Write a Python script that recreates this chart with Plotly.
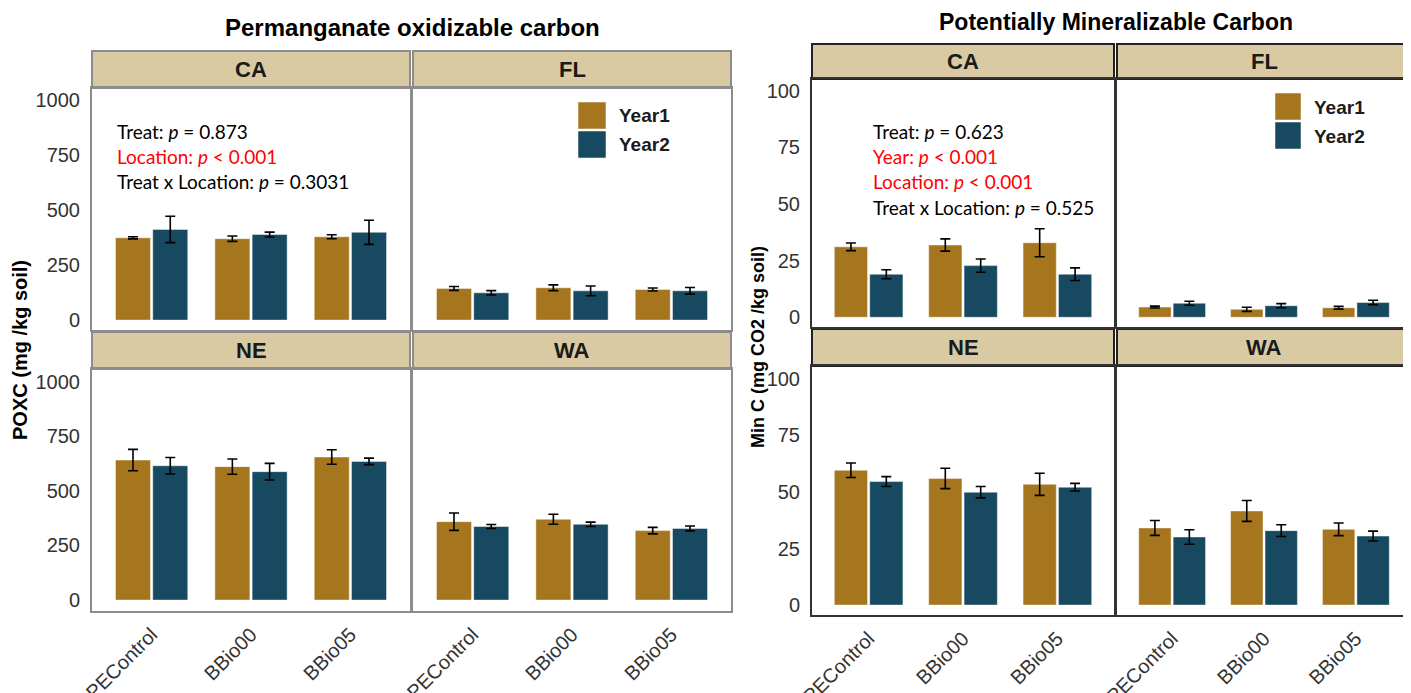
import plotly.graph_objects as go

# page body has an 8px margin: draw the figure 8px smaller and shift coordinates
OFF = 8
W, H = 1411 - OFF, 693 - OFF

treatments = ["PEControl", "BBio00", "BBio05"]
locations = ["CA", "FL", "NE", "WA"]
years = ["Year1", "Year2"]

# POXC (mg /kg soil)
poxc_ca_y1 = [374, 370, 379]
poxc_ca_y1_err = [5, 12, 9]
poxc_ca_y2 = [412, 389, 399]
poxc_ca_y2_err = [60, 11, 55]
poxc_fl_y1 = [144, 147, 139]
poxc_fl_y1_err = [9, 13, 7]
poxc_fl_y2 = [124, 133, 133]
poxc_fl_y2_err = [10, 22, 15]
poxc_ne_y1 = [641, 611, 655]
poxc_ne_y1_err = [49, 35, 33]
poxc_ne_y2 = [615, 588, 635]
poxc_ne_y2_err = [38, 38, 15]
poxc_wa_y1 = [359, 370, 318]
poxc_wa_y1_err = [40, 23, 15]
poxc_wa_y2 = [337, 347, 328]
poxc_wa_y2_err = [9, 10, 11]

# Min C (mg CO2 /kg soil)
minc_ca_y1 = [31.1, 31.9, 32.9]
minc_ca_y1_err = [1.7, 2.7, 6.2]
minc_ca_y2 = [19.0, 22.8, 19.0]
minc_ca_y2_err = [2.0, 2.9, 2.8]
minc_fl_y1 = [4.5, 3.5, 4.2]
minc_fl_y1_err = [0.4, 0.9, 0.6]
minc_fl_y2 = [6.2, 5.1, 6.5]
minc_fl_y2_err = [0.9, 0.9, 1.0]
minc_ne_y1 = [59.6, 56.0, 53.4]
minc_ne_y1_err = [3.2, 4.5, 4.9]
minc_ne_y2 = [54.6, 49.9, 52.1]
minc_ne_y2_err = [2.2, 2.5, 1.7]
minc_wa_y1 = [34.1, 41.6, 33.5]
minc_wa_y1_err = [3.3, 4.6, 2.8]
minc_wa_y2 = [30.1, 32.9, 30.5]
minc_wa_y2_err = [3.2, 2.6, 2.2]

poxc_ticks = [0, 250, 500, 750, 1000]
minc_ticks = [0, 25, 50, 75, 100]

poxc_stats = [("Treat: <i>p</i> = 0.873", "black"),
              ("Location: <i>p</i> < 0.001", "#FF0000"),
              ("Treat x Location: <i>p</i> = 0.3031", "black")]
minc_stats = [("Treat: <i>p</i> = 0.623", "black"),
              ("Year: <i>p</i> < 0.001", "#FF0000"),
              ("Location: <i>p</i> < 0.001", "#FF0000"),
              ("Treat x Location: <i>p</i> = 0.525", "black")]

C_Y1 = "#A6761E"
C_Y2 = "#174A60"
STRIP = "#D9CAA3"


def px(x):
    return (x - OFF) / W


def py(y):
    return 1 - (y - OFF) / H


# panel geometry (pixels in the target picture): (x0, x1, y0, y1)
panels = [
    # left chart
    dict(loc="CA", box=(92, 410, 88, 330), strip=(51, 88), rng=[-45, 1055], data=(poxc_ca_y1, poxc_ca_y1_err, poxc_ca_y2, poxc_ca_y2_err), yt=True, xt=False, chart="L"),
    dict(loc="FL", box=(413, 731, 88, 330), strip=(51, 88), rng=[-45, 1055], data=(poxc_fl_y1, poxc_fl_y1_err, poxc_fl_y2, poxc_fl_y2_err), yt=False, xt=False, chart="L"),
    dict(loc="NE", box=(92, 410, 369, 611), strip=(332, 369), rng=[-50, 1058], data=(poxc_ne_y1, poxc_ne_y1_err, poxc_ne_y2, poxc_ne_y2_err), yt=True, xt=True, chart="L"),
    dict(loc="WA", box=(413, 731, 369, 611), strip=(332, 369), rng=[-50, 1058], data=(poxc_wa_y1, poxc_wa_y1_err, poxc_wa_y2, poxc_wa_y2_err), yt=False, xt=True, chart="L"),
    # right chart
    dict(loc="CA", box=(812, 1114, 79, 327), strip=(44, 79), rng=[-4.3, 105.2], data=(minc_ca_y1, minc_ca_y1_err, minc_ca_y2, minc_ca_y2_err), yt=True, xt=False, chart="R"),
    dict(loc="FL", box=(1117, 1411, 79, 327), strip=(44, 79), rng=[-4.3, 105.2], data=(minc_fl_y1, minc_fl_y1_err, minc_fl_y2, minc_fl_y2_err), yt=False, xt=False, chart="R"),
    dict(loc="NE", box=(812, 1114, 366, 615), strip=(329, 366), rng=[-4.4, 105.7], data=(minc_ne_y1, minc_ne_y1_err, minc_ne_y2, minc_ne_y2_err), yt=True, xt=True, chart="R"),
    dict(loc="WA", box=(1117, 1411, 366, 615), strip=(329, 366), rng=[-4.4, 105.7], data=(minc_wa_y1, minc_wa_y1_err, minc_wa_y2, minc_wa_y2_err), yt=False, xt=True, chart="R"),
]

fig = go.Figure()
shapes = []
annotations = []
layout_axes = {}

for i, p in enumerate(panels, start=1):
    xa = "x" if i == 1 else f"x{i}"
    ya = "y" if i == 1 else f"y{i}"
    x0, x1, y0, y1 = p["box"]
    y1v, e1, y2v, e2 = p["data"]
    for name, vals, errs, col in (("Year1", y1v, e1, C_Y1), ("Year2", y2v, e2, C_Y2)):
        fig.add_trace(go.Bar(
            x=treatments, y=vals, name=name, showlegend=False,
            marker=dict(color=col, line=dict(color="rgba(255,255,255,0.45)", width=1)),
            error_y=dict(type="data", array=errs, visible=True, color="black", thickness=1.6, width=5),
            xaxis=xa, yaxis=ya, offsetgroup=name,
        ))
    lc = "#8C8C8C" if p["chart"] == "L" else "#333333"
    key_x = "xaxis" if i == 1 else f"xaxis{i}"
    key_y = "yaxis" if i == 1 else f"yaxis{i}"
    layout_axes[key_x] = dict(
        domain=[px(x0), min(px(x1), 1.0)], anchor=ya, range=[-0.6, 2.6], automargin=False,
        showticklabels=p["xt"], tickangle=-45, ticks="", showgrid=False, zeroline=False,
        showline=True, mirror=True, linecolor=lc, linewidth=2,
        tickfont=dict(family="Liberation Sans, Arial", size=20, color="#333333"),
        ticklabelstandoff=2, categoryorder="array", categoryarray=treatments,
    )
    layout_axes[key_y] = dict(
        domain=[py(y1), py(y0)], anchor=xa, range=p["rng"], automargin=False,
        tickvals=poxc_ticks if p["chart"] == "L" else minc_ticks,
        showticklabels=p["yt"], ticks="", showgrid=False, zeroline=False,
        showline=True, mirror=True, linecolor=lc, linewidth=2,
        tickfont=dict(family="Liberation Sans, Arial", size=20, color="#333333"),
        ticklabelstandoff=6,
    )
    # strip
    s0, s1 = p["strip"]
    shapes.append(dict(type="rect", xref="paper", yref="paper",
                       x0=px(x0), x1=min(px(x1), 1.0), y0=py(s1), y1=py(s0),
                       fillcolor=STRIP, line=dict(color=lc if p["chart"] == "L" else "#222222", width=2), layer="below"))
    annotations.append(dict(text=f"<b>{p['loc']}</b>", xref="paper", yref="paper",
                            x=px((x0 + x1) / 2), y=py((s0 + s1) / 2), showarrow=False,
                            font=dict(family="Liberation Sans, Arial", size=22, color="#1a1a1a"),
                            xanchor="center", yanchor="middle"))

# stats text
for k, (t, c) in enumerate(poxc_stats):
    annotations.append(dict(text=t, xref="paper", yref="paper", x=px(115), y=py(131 + 25.5 * k),
                            showarrow=False, xanchor="left", yanchor="middle",
                            font=dict(family="Lato, Open Sans", size=19, color=c)))
for k, (t, c) in enumerate(minc_stats):
    annotations.append(dict(text=t, xref="paper", yref="paper", x=px(871), y=py(131 + 25.5 * k),
                            showarrow=False, xanchor="left", yanchor="middle",
                            font=dict(family="Lato, Open Sans", size=19, color=c)))

# legends
for (bx0, bx1, by, tx, step) in ((578, 606, 102, 617, 29), (1275, 1301, 93, 1312, 29)):
    for k, (name, col) in enumerate(zip(years, (C_Y1, C_Y2))):
        top = by + k * step
        shapes.append(dict(type="rect", xref="paper", yref="paper",
                           x0=px(bx0), x1=px(bx1), y0=py(top + 27), y1=py(top),
                           fillcolor=col, line=dict(color="rgba(255,255,255,0.5)", width=1)))
        annotations.append(dict(text=f"<b>{name}</b>", xref="paper", yref="paper",
                                x=px(tx), y=py(top + 14), showarrow=False, xanchor="left", yanchor="middle",
                                font=dict(family="Liberation Sans, Arial", size=19, color="#1a1a1a")))

# titles
annotations.append(dict(text="<b>Permanganate oxidizable carbon</b>", xref="paper", yref="paper",
                        x=px(412), y=py(28), showarrow=False, xanchor="center", yanchor="middle",
                        font=dict(family="Liberation Sans, Arial", size=24, color="black")))
annotations.append(dict(text="<b>Potentially Mineralizable Carbon</b>", xref="paper", yref="paper",
                        x=px(1116), y=py(22), showarrow=False, xanchor="center", yanchor="middle",
                        font=dict(family="Liberation Sans, Arial", size=23, color="black")))
# y axis titles
annotations.append(dict(text="<b>POXC (mg /kg soil)</b>", xref="paper", yref="paper",
                        x=px(20), y=py(350), showarrow=False, textangle=-90, xanchor="center", yanchor="middle",
                        font=dict(family="Liberation Sans, Arial", size=20, color="black")))
annotations.append(dict(text="<b>Min C (mg CO2 /kg soil)</b>", xref="paper", yref="paper",
                        x=px(758), y=py(347), showarrow=False, textangle=-90, xanchor="center", yanchor="middle",
                        font=dict(family="Liberation Sans, Arial", size=18, color="black")))

fig.update_layout(
    width=W, height=H, margin=dict(l=0, r=0, t=0, b=0, autoexpand=False),
    paper_bgcolor="white", plot_bgcolor="white",
    barmode="group", bargap=0.25, bargroupgap=0.06,
    shapes=shapes, annotations=annotations, showlegend=False,
    **layout_axes,
)

fig.write_html("out.html")
